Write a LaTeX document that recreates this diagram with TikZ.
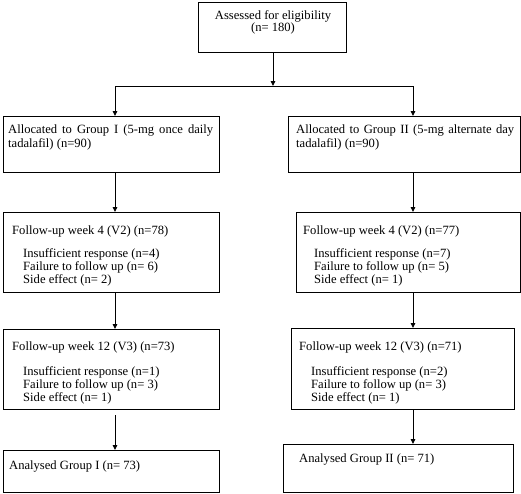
\documentclass[tikz,border=0pt]{standalone}
\usepackage{fontspec}
\setmainfont{Liberation Serif}
\usetikzlibrary{arrows.meta}
\begin{document}
\begin{tikzpicture}[x=1pt,y=-1pt,
  box/.style={draw,line width=0.9pt,anchor=north west,inner sep=0pt},
  txt/.style={anchor=west,inner sep=0pt,font=\fontsize{12.6}{14}\selectfont},
  par/.style={anchor=north west,inner sep=0pt,font=\fontsize{12.6}{14}\selectfont,text width=#1,align=justify},
  arr/.style={line width=0.9pt,-{Triangle[length=5pt,width=4.5pt]}},
  ln/.style={line width=0.9pt}]
\useasboundingbox (0,0) rectangle (521,493);
% boxes
\node[box,minimum width=148pt,minimum height=50pt] (top) at (198,2) {};
\node[box,minimum width=216pt,minimum height=56pt] (aL) at (3,116) {};
\node[box,minimum width=232pt,minimum height=56pt] (aR) at (288,116) {};
\node[box,minimum width=216pt,minimum height=80pt] (fL) at (3,212) {};
\node[box,minimum width=224pt,minimum height=80pt] (fR) at (296,212) {};
\node[box,minimum width=216pt,minimum height=80pt] (gL) at (3,329) {};
\node[box,minimum width=223pt,minimum height=81pt] (gR) at (291,328) {};
\node[box,minimum width=216pt,minimum height=42pt] (hL) at (3,450) {};
\node[box,minimum width=230pt,minimum height=48pt] (hR) at (283,444) {};
% texts
\node[txt,anchor=center] (t1) at (273,16) {Assessed for eligibility};
\node[txt,anchor=center] (t2) at (273,28) {(n= 180)};
\node[par=205pt] (aLt) at (8,125) {Allocated to Group I (5-mg once daily tadalafil) (n=90)};
\node[par=218pt] (aRt) at (296,125) {Allocated to Group II (5-mg alternate day tadalafil) (n=90)};
\node[txt] (fL1) at (12,231) {Follow-up week 4 (V2) (n=78)};
\node[txt] (fL2) at (23,254) {Insufficient response (n=4)};
\node[txt] (fL3) at (23,267) {Failure to follow up (n= 6)};
\node[txt] (fL4) at (23,280) {Side effect (n= 2)};
\node[txt] (fR1) at (303,231) {Follow-up week 4 (V2) (n=77)};
\node[txt] (fR2) at (314,254) {Insufficient response (n=7)};
\node[txt] (fR3) at (314,267) {Failure to follow up (n= 5)};
\node[txt] (fR4) at (314,280) {Side effect (n= 1)};
\node[txt] (gL1) at (12,347) {Follow-up week 12 (V3) (n=73)};
\node[txt] (gL2) at (23,372) {Insufficient response (n=1)};
\node[txt] (gL3) at (23,385) {Failure to follow up (n= 3)};
\node[txt] (gL4) at (23,398) {Side effect (n= 1)};
\node[txt] (gR1) at (299,347) {Follow-up week 12 (V3) (n=71)};
\node[txt] (gR2) at (311,372) {Insufficient response (n=2)};
\node[txt] (gR3) at (311,385) {Failure to follow up (n= 3)};
\node[txt] (gR4) at (311,398) {Side effect (n= 1)};
\node[txt] (hLt) at (9,466) {Analysed Group I (n= 73)};
\node[txt] (hRt) at (299,459) {Analysed Group II (n= 71)};
% connectors
\coordinate (sp) at (273,86);
\coordinate (spL) at (115,86);
\coordinate (spR) at (413,86);
\draw[arr] (top.south -| sp) -- (sp);
\draw[ln] (spL) -- (spR);
\draw[arr] (spL) -- (spL |- aL.north);
\draw[arr] (spR) -- (spR |- aR.north);
\draw[arr] (aL.south -| spL) -- (fL.north -| spL);
\draw[arr] (aR.south -| spR) -- (fR.north -| spR);
\draw[arr] (fL.south -| spL) -- (gL.north -| spL);
\draw[arr] (fR.south -| spR) -- (gR.north -| spR);
\coordinate (gLs) at (115,415);
\draw[arr] (gLs) -- (hL.north -| spL);
\draw[arr] (gR.south -| spR) -- (hR.north -| spR);
\end{tikzpicture}
\end{document}
